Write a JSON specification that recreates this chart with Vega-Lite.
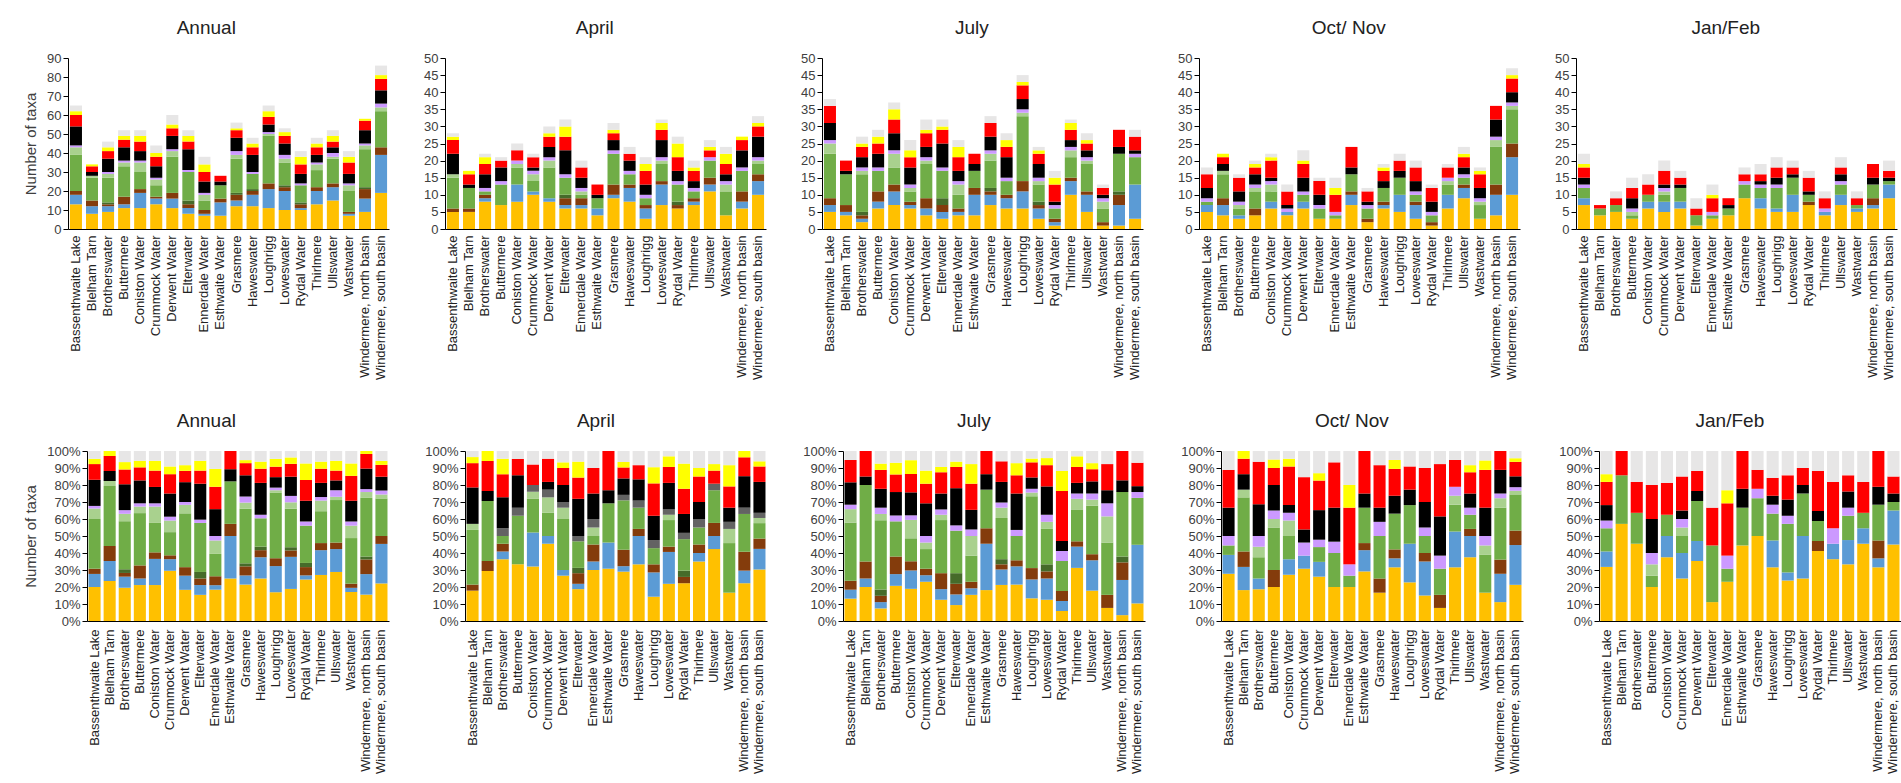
{
"$schema":"https://vega.github.io/schema/vega-lite/v6.json",
"background":"white",
"padding":{"left":22,"top":19,"right":0,"bottom":0},
"config":{
 "view":{"stroke":null},
 "axis":{"labelFont":"Liberation Sans","labelFontSize":13,"labelColor":"#404040","titleFont":"Liberation Sans","titleFontSize":15,"titleFontWeight":"normal","titleColor":"#404040","domainColor":"#000000","tickColor":"#000000","grid":false},
 "title":{"font":"Liberation Sans","fontSize":19,"fontWeight":"normal","color":"#222222","frame":"bounds","offset":14}
},
"data":{"values":[
{"p":"Annual","l":"Bassenthwaite Lake","g01":13,"g02":5,"g03":2,"g04":0,"g05":19,"g06":4,"g07":1,"g08":10,"g09":6,"g10":2,"g11":3},
{"p":"Annual","l":"Blelham Tarn","g01":8,"g02":4,"g03":3,"g04":0,"g05":12,"g06":1,"g07":0,"g08":2,"g09":3,"g10":1,"g11":0},
{"p":"Annual","l":"Brotherswater","g01":9,"g02":3,"g03":1,"g04":1,"g05":13,"g06":2,"g07":1,"g08":7,"g09":4,"g10":2,"g11":3},
{"p":"Annual","l":"Buttermere","g01":11,"g02":2,"g03":4,"g04":0,"g05":16,"g06":2,"g07":1,"g08":7,"g09":4,"g10":2,"g11":3},
{"p":"Annual","l":"Coniston Water","g01":11,"g02":8,"g03":2,"g04":0,"g05":9,"g06":5,"g07":1,"g08":5,"g09":5,"g10":3,"g11":3},
{"p":"Annual","l":"Crummock Water","g01":13,"g02":3,"g03":1,"g04":0,"g05":6,"g06":3,"g07":1,"g08":6,"g09":5,"g10":2,"g11":4},
{"p":"Annual","l":"Derwent Water","g01":11,"g02":5,"g03":3,"g04":0,"g05":19,"g06":3,"g07":1,"g08":7,"g09":4,"g10":2,"g11":5},
{"p":"Annual","l":"Elterwater","g01":8,"g02":3,"g03":2,"g04":2,"g05":15,"g06":0,"g07":1,"g08":11,"g09":4,"g10":3,"g11":3},
{"p":"Annual","l":"Ennerdale Water","g01":7,"g02":1,"g03":2,"g04":0,"g05":5,"g06":3,"g07":1,"g08":6,"g09":5,"g10":4,"g11":4},
{"p":"Annual","l":"Esthwaite Water","g01":7,"g02":7,"g03":2,"g04":0,"g05":7,"g06":0,"g07":0,"g08":2,"g09":3,"g10":0,"g11":0},
{"p":"Annual","l":"Grasmere","g01":12,"g02":3,"g03":3,"g04":1,"g05":18,"g06":2,"g07":2,"g08":7,"g09":4,"g10":1,"g11":3},
{"p":"Annual","l":"Haweswater","g01":12,"g02":6,"g03":2,"g04":1,"g05":8,"g06":0,"g07":1,"g08":9,"g09":4,"g10":2,"g11":3},
{"p":"Annual","l":"Loughrigg","g01":11,"g02":10,"g03":3,"g04":0,"g05":25,"g06":1,"g07":1,"g08":4,"g09":4,"g10":3,"g11":3},
{"p":"Annual","l":"Loweswater","g01":10,"g02":10,"g03":2,"g04":1,"g05":12,"g06":2,"g07":2,"g08":6,"g09":4,"g10":2,"g11":2},
{"p":"Annual","l":"Rydal Water","g01":10,"g02":1,"g03":2,"g04":1,"g05":9,"g06":0,"g07":1,"g08":5,"g09":5,"g10":4,"g11":3},
{"p":"Annual","l":"Thirlmere","g01":13,"g02":7,"g03":2,"g04":0,"g05":9,"g06":3,"g07":1,"g08":4,"g09":4,"g10":2,"g11":3},
{"p":"Annual","l":"Ullswater","g01":15,"g02":7,"g03":2,"g04":0,"g05":13,"g06":1,"g07":2,"g08":3,"g09":3,"g10":3,"g11":3},
{"p":"Annual","l":"Wastwater","g01":7,"g02":1,"g03":1,"g04":0,"g05":11,"g06":3,"g07":1,"g08":5,"g09":6,"g10":3,"g11":3},
{"p":"Annual","l":"Windermere, north basin","g01":9,"g02":7,"g03":5,"g04":1,"g05":20,"g06":2,"g07":1,"g08":7,"g09":5,"g10":1,"g11":0},
{"p":"Annual","l":"Windermere, south basin","g01":19,"g02":20,"g03":4,"g04":0,"g05":19,"g06":2,"g07":2,"g08":7,"g09":6,"g10":2,"g11":5},
{"p":"April","l":"Bassenthwaite Lake","g01":5,"g02":0,"g03":1,"g04":0,"g05":9,"g06":1,"g07":0,"g08":6,"g09":4,"g10":1,"g11":1},
{"p":"April","l":"Blelham Tarn","g01":5,"g02":0,"g03":1,"g04":0,"g05":6,"g06":0,"g07":0,"g08":1,"g09":3,"g10":1,"g11":0},
{"p":"April","l":"Brotherswater","g01":8,"g02":1,"g03":1,"g04":0,"g05":1,"g06":0,"g07":1,"g08":4,"g09":3,"g10":2,"g11":1},
{"p":"April","l":"Buttermere","g01":7,"g02":0,"g03":0,"g04":0,"g05":6,"g06":0,"g07":1,"g08":4,"g09":2,"g10":0,"g11":1},
{"p":"April","l":"Coniston Water","g01":8,"g02":5,"g03":0,"g04":0,"g05":5,"g06":1,"g07":1,"g08":0,"g09":3,"g10":0,"g11":2},
{"p":"April","l":"Crummock Water","g01":10,"g02":1,"g03":0,"g04":0,"g05":3,"g06":2,"g07":1,"g08":1,"g09":3,"g10":0,"g11":1},
{"p":"April","l":"Derwent Water","g01":8,"g02":1,"g03":0,"g04":0,"g05":9,"g06":2,"g07":1,"g08":3,"g09":3,"g10":1,"g11":2},
{"p":"April","l":"Elterwater","g01":6,"g02":1,"g03":2,"g04":1,"g05":5,"g06":0,"g07":1,"g08":7,"g09":4,"g10":3,"g11":2},
{"p":"April","l":"Ennerdale Water","g01":6,"g02":1,"g03":2,"g04":0,"g05":1,"g06":1,"g07":1,"g08":3,"g09":3,"g10":0,"g11":2},
{"p":"April","l":"Esthwaite Water","g01":4,"g02":2,"g03":0,"g04":0,"g05":3,"g06":0,"g07":0,"g08":1,"g09":3,"g10":0,"g11":0},
{"p":"April","l":"Grasmere","g01":9,"g02":1,"g03":3,"g04":0,"g05":9,"g06":0,"g07":1,"g08":3,"g09":2,"g10":1,"g11":2},
{"p":"April","l":"Haweswater","g01":8,"g02":4,"g03":1,"g04":0,"g05":3,"g06":0,"g07":1,"g08":3,"g09":2,"g10":0,"g11":2},
{"p":"April","l":"Loughrigg","g01":3,"g02":3,"g03":1,"g04":0,"g05":2,"g06":0,"g07":1,"g08":3,"g09":4,"g10":2,"g11":2},
{"p":"April","l":"Loweswater","g01":7,"g02":6,"g03":1,"g04":0,"g05":5,"g06":1,"g07":1,"g08":5,"g09":3,"g10":2,"g11":1},
{"p":"April","l":"Rydal Water","g01":6,"g02":0,"g03":1,"g04":1,"g05":5,"g06":0,"g07":1,"g08":3,"g09":4,"g10":4,"g11":2},
{"p":"April","l":"Thirlmere","g01":7,"g02":1,"g03":1,"g04":0,"g05":2,"g06":0,"g07":1,"g08":2,"g09":3,"g10":1,"g11":2},
{"p":"April","l":"Ullswater","g01":11,"g02":2,"g03":2,"g04":0,"g05":5,"g06":0,"g07":1,"g08":0,"g09":2,"g10":1,"g11":2},
{"p":"April","l":"Wastwater","g01":4,"g02":0,"g03":0,"g04":0,"g05":7,"g06":2,"g07":1,"g08":2,"g09":3,"g10":3,"g11":2},
{"p":"April","l":"Windermere, north basin","g01":6,"g02":2,"g03":3,"g04":0,"g05":6,"g06":0,"g07":1,"g08":5,"g09":3,"g10":1,"g11":0},
{"p":"April","l":"Windermere, south basin","g01":10,"g02":4,"g03":2,"g04":0,"g05":3,"g06":1,"g07":1,"g08":6,"g09":3,"g10":1,"g11":2},
{"p":"July","l":"Bassenthwaite Lake","g01":5,"g02":2,"g03":2,"g04":0,"g05":13,"g06":3,"g07":1,"g08":5,"g09":5,"g10":0,"g11":2},
{"p":"July","l":"Blelham Tarn","g01":4,"g02":1,"g03":2,"g04":0,"g05":9,"g06":0,"g07":0,"g08":1,"g09":3,"g10":0,"g11":0},
{"p":"July","l":"Brotherswater","g01":2,"g02":1,"g03":1,"g04":1,"g05":11,"g06":1,"g07":1,"g08":3,"g09":3,"g10":1,"g11":2},
{"p":"July","l":"Buttermere","g01":6,"g02":2,"g03":3,"g04":0,"g05":6,"g06":0,"g07":1,"g08":4,"g09":3,"g10":2,"g11":2},
{"p":"July","l":"Coniston Water","g01":7,"g02":4,"g03":2,"g04":0,"g05":5,"g06":4,"g07":1,"g08":5,"g09":4,"g10":3,"g11":2},
{"p":"July","l":"Crummock Water","g01":6,"g02":1,"g03":1,"g04":0,"g05":3,"g06":1,"g07":1,"g08":5,"g09":3,"g10":2,"g11":3},
{"p":"July","l":"Derwent Water","g01":4,"g02":2,"g03":3,"g04":0,"g05":10,"g06":1,"g07":1,"g08":3,"g09":4,"g10":1,"g11":3},
{"p":"July","l":"Elterwater","g01":3,"g02":2,"g03":2,"g04":2,"g05":8,"g06":0,"g07":1,"g08":7,"g09":4,"g10":1,"g11":2},
{"p":"July","l":"Ennerdale Water","g01":4,"g02":1,"g03":1,"g04":0,"g05":4,"g06":3,"g07":1,"g08":3,"g09":4,"g10":3,"g11":2},
{"p":"July","l":"Esthwaite Water","g01":4,"g02":6,"g03":2,"g04":0,"g05":5,"g06":0,"g07":0,"g08":2,"g09":3,"g10":0,"g11":0},
{"p":"July","l":"Grasmere","g01":7,"g02":3,"g03":1,"g04":1,"g05":8,"g06":2,"g07":1,"g08":4,"g09":4,"g10":0,"g11":2},
{"p":"July","l":"Haweswater","g01":6,"g02":3,"g03":1,"g04":0,"g05":4,"g06":0,"g07":1,"g08":6,"g09":3,"g10":2,"g11":2},
{"p":"July","l":"Loughrigg","g01":6,"g02":5,"g03":3,"g04":0,"g05":19,"g06":1,"g07":1,"g08":3,"g09":4,"g10":1,"g11":2},
{"p":"July","l":"Loweswater","g01":3,"g02":3,"g03":1,"g04":1,"g05":5,"g06":1,"g07":1,"g08":4,"g09":3,"g10":1,"g11":1},
{"p":"July","l":"Rydal Water","g01":1,"g02":1,"g03":1,"g04":0,"g05":3,"g06":0,"g07":1,"g08":1,"g09":5,"g10":2,"g11":2},
{"p":"July","l":"Thirlmere","g01":10,"g02":4,"g03":1,"g04":0,"g05":6,"g06":2,"g07":1,"g08":2,"g09":3,"g10":2,"g11":1},
{"p":"July","l":"Ullswater","g01":5,"g02":5,"g03":1,"g04":0,"g05":8,"g06":1,"g07":1,"g08":2,"g09":2,"g10":1,"g11":2},
{"p":"July","l":"Wastwater","g01":1,"g02":0,"g03":1,"g04":0,"g05":4,"g06":2,"g07":1,"g08":1,"g09":2,"g10":0,"g11":1},
{"p":"July","l":"Windermere, north basin","g01":1,"g02":6,"g03":3,"g04":1,"g05":11,"g06":0,"g07":0,"g08":2,"g09":5,"g10":0,"g11":0},
{"p":"July","l":"Windermere, south basin","g01":3,"g02":10,"g03":0,"g04":0,"g05":8,"g06":0,"g07":1,"g08":1,"g09":4,"g10":0,"g11":2},
{"p":"Oct/ Nov","l":"Bassenthwaite Lake","g01":5,"g02":2,"g03":0,"g04":0,"g05":1,"g06":0,"g07":1,"g08":3,"g09":4,"g10":0,"g11":2},
{"p":"Oct/ Nov","l":"Blelham Tarn","g01":4,"g02":3,"g03":2,"g04":0,"g05":7,"g06":1,"g07":0,"g08":2,"g09":2,"g10":1,"g11":0},
{"p":"Oct/ Nov","l":"Brotherswater","g01":3,"g02":1,"g03":0,"g04":0,"g05":2,"g06":1,"g07":1,"g08":3,"g09":4,"g10":0,"g11":1},
{"p":"Oct/ Nov","l":"Buttermere","g01":4,"g02":0,"g03":2,"g04":0,"g05":5,"g06":1,"g07":1,"g08":3,"g09":2,"g10":1,"g11":1},
{"p":"Oct/ Nov","l":"Coniston Water","g01":6,"g02":2,"g03":0,"g04":0,"g05":3,"g06":2,"g07":1,"g08":1,"g09":5,"g10":1,"g11":1},
{"p":"Oct/ Nov","l":"Crummock Water","g01":4,"g02":1,"g03":0,"g04":0,"g05":0,"g06":0,"g07":1,"g08":1,"g09":4,"g10":0,"g11":2},
{"p":"Oct/ Nov","l":"Derwent Water","g01":6,"g02":2,"g03":0,"g04":0,"g05":2,"g06":0,"g07":1,"g08":4,"g09":4,"g10":1,"g11":3},
{"p":"Oct/ Nov","l":"Elterwater","g01":3,"g02":0,"g03":0,"g04":0,"g05":3,"g06":0,"g07":1,"g08":3,"g09":4,"g10":0,"g11":1},
{"p":"Oct/ Nov","l":"Ennerdale Water","g01":3,"g02":0,"g03":0,"g04":0,"g05":1,"g06":0,"g07":1,"g08":0,"g09":5,"g10":2,"g11":3},
{"p":"Oct/ Nov","l":"Esthwaite Water","g01":7,"g02":3,"g03":1,"g04":0,"g05":5,"g06":0,"g07":0,"g08":2,"g09":6,"g10":0,"g11":0},
{"p":"Oct/ Nov","l":"Grasmere","g01":2,"g02":0,"g03":1,"g04":0,"g05":3,"g06":0,"g07":1,"g08":1,"g09":3,"g10":0,"g11":1},
{"p":"Oct/ Nov","l":"Haweswater","g01":6,"g02":1,"g03":1,"g04":0,"g05":4,"g06":0,"g07":0,"g08":2,"g09":3,"g10":1,"g11":1},
{"p":"Oct/ Nov","l":"Loughrigg","g01":5,"g02":5,"g03":0,"g04":0,"g05":5,"g06":0,"g07":0,"g08":2,"g09":3,"g10":0,"g11":2},
{"p":"Oct/ Nov","l":"Loweswater","g01":3,"g02":4,"g03":1,"g04":0,"g05":2,"g06":0,"g07":1,"g08":3,"g09":4,"g10":0,"g11":2},
{"p":"Oct/ Nov","l":"Rydal Water","g01":1,"g02":0,"g03":1,"g04":0,"g05":2,"g06":0,"g07":1,"g08":3,"g09":4,"g10":0,"g11":1},
{"p":"Oct/ Nov","l":"Thirlmere","g01":6,"g02":4,"g03":0,"g04":0,"g05":3,"g06":1,"g07":1,"g08":0,"g09":3,"g10":0,"g11":1},
{"p":"Oct/ Nov","l":"Ullswater","g01":9,"g02":3,"g03":1,"g04":0,"g05":2,"g06":0,"g07":1,"g08":2,"g09":3,"g10":1,"g11":2},
{"p":"Oct/ Nov","l":"Wastwater","g01":3,"g02":0,"g03":0,"g04":0,"g05":4,"g06":1,"g07":1,"g08":3,"g09":4,"g10":1,"g11":1},
{"p":"Oct/ Nov","l":"Windermere, north basin","g01":4,"g02":6,"g03":3,"g04":0,"g05":11,"g06":2,"g07":1,"g08":5,"g09":4,"g10":0,"g11":0},
{"p":"Oct/ Nov","l":"Windermere, south basin","g01":10,"g02":11,"g03":4,"g04":0,"g05":10,"g06":1,"g07":1,"g08":3,"g09":4,"g10":1,"g11":2},
{"p":"Jan/Feb","l":"Bassenthwaite Lake","g01":7,"g02":2,"g03":0,"g04":0,"g05":3,"g06":0,"g07":1,"g08":2,"g09":3,"g10":1,"g11":3},
{"p":"Jan/Feb","l":"Blelham Tarn","g01":4,"g02":0,"g03":0,"g04":0,"g05":2,"g06":0,"g07":0,"g08":0,"g09":1,"g10":0,"g11":0},
{"p":"Jan/Feb","l":"Brotherswater","g01":5,"g02":0,"g03":0,"g04":0,"g05":2,"g06":0,"g07":0,"g08":0,"g09":2,"g10":0,"g11":2},
{"p":"Jan/Feb","l":"Buttermere","g01":3,"g02":0,"g03":0,"g04":0,"g05":1,"g06":1,"g07":1,"g08":3,"g09":3,"g10":0,"g11":3},
{"p":"Jan/Feb","l":"Coniston Water","g01":6,"g02":2,"g03":0,"g04":0,"g05":2,"g06":0,"g07":0,"g08":0,"g09":3,"g10":0,"g11":3},
{"p":"Jan/Feb","l":"Crummock Water","g01":5,"g02":3,"g03":0,"g04":0,"g05":2,"g06":1,"g07":1,"g08":1,"g09":4,"g10":0,"g11":3},
{"p":"Jan/Feb","l":"Derwent Water","g01":6,"g02":2,"g03":0,"g04":0,"g05":4,"g06":0,"g07":0,"g08":1,"g09":2,"g10":0,"g11":2},
{"p":"Jan/Feb","l":"Elterwater","g01":1,"g02":0,"g03":0,"g04":0,"g05":3,"g06":0,"g07":0,"g08":0,"g09":2,"g10":0,"g11":3},
{"p":"Jan/Feb","l":"Ennerdale Water","g01":3,"g02":0,"g03":0,"g04":0,"g05":1,"g06":0,"g07":1,"g08":0,"g09":4,"g10":1,"g11":3},
{"p":"Jan/Feb","l":"Esthwaite Water","g01":4,"g02":0,"g03":0,"g04":0,"g05":2,"g06":0,"g07":0,"g08":1,"g09":2,"g10":0,"g11":0},
{"p":"Jan/Feb","l":"Grasmere","g01":9,"g02":0,"g03":0,"g04":0,"g05":4,"g06":0,"g07":1,"g08":0,"g09":2,"g10":0,"g11":2},
{"p":"Jan/Feb","l":"Haweswater","g01":6,"g02":3,"g03":0,"g04":0,"g05":3,"g06":0,"g07":1,"g08":1,"g09":2,"g10":0,"g11":3},
{"p":"Jan/Feb","l":"Loughrigg","g01":5,"g02":1,"g03":0,"g04":0,"g05":6,"g06":0,"g07":1,"g08":2,"g09":3,"g10":0,"g11":3},
{"p":"Jan/Feb","l":"Loweswater","g01":5,"g02":5,"g03":0,"g04":0,"g05":5,"g06":0,"g07":0,"g08":1,"g09":2,"g10":0,"g11":2},
{"p":"Jan/Feb","l":"Rydal Water","g01":7,"g02":0,"g03":1,"g04":0,"g05":2,"g06":0,"g07":0,"g08":1,"g09":4,"g10":0,"g11":2},
{"p":"Jan/Feb","l":"Thirlmere","g01":4,"g02":1,"g03":0,"g04":0,"g05":0,"g06":0,"g07":1,"g08":0,"g09":3,"g10":0,"g11":2},
{"p":"Jan/Feb","l":"Ullswater","g01":7,"g02":3,"g03":0,"g04":0,"g05":3,"g06":0,"g07":1,"g08":2,"g09":2,"g10":0,"g11":3},
{"p":"Jan/Feb","l":"Wastwater","g01":5,"g02":1,"g03":0,"g04":0,"g05":1,"g06":0,"g07":0,"g08":0,"g09":2,"g10":0,"g11":2},
{"p":"Jan/Feb","l":"Windermere, north basin","g01":6,"g02":1,"g03":2,"g04":0,"g05":4,"g06":0,"g07":0,"g08":2,"g09":4,"g10":0,"g11":0},
{"p":"Jan/Feb","l":"Windermere, south basin","g01":9,"g02":4,"g03":0,"g04":0,"g05":1,"g06":0,"g07":0,"g08":1,"g09":2,"g10":0,"g11":3}
]},
"columns":1,
"align":"none",
"spacing":32,
"resolve":{"scale":{"color":"independent"}},
"concat":[
{"spacing":0,"resolve":{"scale":{"color":"independent"}},"hconcat":[
 {"data":{"values":[]},"width":1,"height":1,"mark":{"type":"point","opacity":0},"encoding":{}},
 {"spacing":34,"resolve":{"scale":{"color":"independent"}},"hconcat":[
 {"title":"Annual","width":321,"height":171,
  "transform":[{"filter":{"field":"p","equal":"Annual"}},{"fold":["g01","g02","g03","g04","g05","g06","g07","g08","g09","g10","g11"],"as":["g","n"]}],
  "mark":{"type":"bar"},
  "encoding":{
   "x":{"field":"l","type":"nominal","sort":null,"scale":{"paddingInner":0.25,"paddingOuter":0.12},"axis":{"title":null,"labelAngle":-90,"ticks":false,"labelPadding":6,"labelOverlap":false,"labelColor":"#222222"}},
   "y":{"field":"n","type":"quantitative","stack":"zero","scale":{"domain":[0,90],"nice":false},"axis":{"title":"Number of taxa","values":[0,10,20,30,40,50,60,70,80,90],"tickSize":5,"labelPadding":2,"titlePadding":8}},
   "color":{"field":"g","type":"nominal","legend":null,"scale":{"domain":["g01","g02","g03","g04","g05","g06","g07","g08","g09","g10","g11"],"range":["#FFC000","#5B9BD5","#843C0C","#466B2A","#70AD47","#A9D18E","#CC99FF","#000000","#FF0000","#FFFF00","#E7E6E6"]}},
   "order":{"field":"g","sort":"ascending"}}},
 {"title":"April","width":321,"height":171,
  "transform":[{"filter":{"field":"p","equal":"April"}},{"fold":["g01","g02","g03","g04","g05","g06","g07","g08","g09","g10","g11"],"as":["g","n"]}],
  "mark":{"type":"bar"},
  "encoding":{
   "x":{"field":"l","type":"nominal","sort":null,"scale":{"paddingInner":0.25,"paddingOuter":0.12},"axis":{"title":null,"labelAngle":-90,"ticks":false,"labelPadding":6,"labelOverlap":false,"labelColor":"#222222"}},
   "y":{"field":"n","type":"quantitative","stack":"zero","scale":{"domain":[0,50],"nice":false},"axis":{"title":null,"values":[0,5,10,15,20,25,30,35,40,45,50],"tickSize":5,"labelPadding":2}},
   "color":{"field":"g","type":"nominal","legend":null,"scale":{"domain":["g01","g02","g03","g04","g05","g06","g07","g08","g09","g10","g11"],"range":["#FFC000","#5B9BD5","#843C0C","#466B2A","#70AD47","#A9D18E","#CC99FF","#000000","#FF0000","#FFFF00","#E7E6E6"]}},
   "order":{"field":"g","sort":"ascending"}}},
 {"title":"July","width":321,"height":171,
  "transform":[{"filter":{"field":"p","equal":"July"}},{"fold":["g01","g02","g03","g04","g05","g06","g07","g08","g09","g10","g11"],"as":["g","n"]}],
  "mark":{"type":"bar"},
  "encoding":{
   "x":{"field":"l","type":"nominal","sort":null,"scale":{"paddingInner":0.25,"paddingOuter":0.12},"axis":{"title":null,"labelAngle":-90,"ticks":false,"labelPadding":6,"labelOverlap":false,"labelColor":"#222222"}},
   "y":{"field":"n","type":"quantitative","stack":"zero","scale":{"domain":[0,50],"nice":false},"axis":{"title":null,"values":[0,5,10,15,20,25,30,35,40,45,50],"tickSize":5,"labelPadding":2}},
   "color":{"field":"g","type":"nominal","legend":null,"scale":{"domain":["g01","g02","g03","g04","g05","g06","g07","g08","g09","g10","g11"],"range":["#FFC000","#5B9BD5","#843C0C","#466B2A","#70AD47","#A9D18E","#CC99FF","#000000","#FF0000","#FFFF00","#E7E6E6"]}},
   "order":{"field":"g","sort":"ascending"}}},
 {"title":"Oct/ Nov","width":321,"height":171,
  "transform":[{"filter":{"field":"p","equal":"Oct/ Nov"}},{"fold":["g01","g02","g03","g04","g05","g06","g07","g08","g09","g10","g11"],"as":["g","n"]}],
  "mark":{"type":"bar"},
  "encoding":{
   "x":{"field":"l","type":"nominal","sort":null,"scale":{"paddingInner":0.25,"paddingOuter":0.12},"axis":{"title":null,"labelAngle":-90,"ticks":false,"labelPadding":6,"labelOverlap":false,"labelColor":"#222222"}},
   "y":{"field":"n","type":"quantitative","stack":"zero","scale":{"domain":[0,50],"nice":false},"axis":{"title":null,"values":[0,5,10,15,20,25,30,35,40,45,50],"tickSize":5,"labelPadding":2}},
   "color":{"field":"g","type":"nominal","legend":null,"scale":{"domain":["g01","g02","g03","g04","g05","g06","g07","g08","g09","g10","g11"],"range":["#FFC000","#5B9BD5","#843C0C","#466B2A","#70AD47","#A9D18E","#CC99FF","#000000","#FF0000","#FFFF00","#E7E6E6"]}},
   "order":{"field":"g","sort":"ascending"}}},
 {"title":"Jan/Feb","width":321,"height":171,
  "transform":[{"filter":{"field":"p","equal":"Jan/Feb"}},{"fold":["g01","g02","g03","g04","g05","g06","g07","g08","g09","g10","g11"],"as":["g","n"]}],
  "mark":{"type":"bar"},
  "encoding":{
   "x":{"field":"l","type":"nominal","sort":null,"scale":{"paddingInner":0.25,"paddingOuter":0.12},"axis":{"title":null,"labelAngle":-90,"ticks":false,"labelPadding":6,"labelOverlap":false,"labelColor":"#222222"}},
   "y":{"field":"n","type":"quantitative","stack":"zero","scale":{"domain":[0,50],"nice":false},"axis":{"title":null,"values":[0,5,10,15,20,25,30,35,40,45,50],"tickSize":5,"labelPadding":2}},
   "color":{"field":"g","type":"nominal","legend":null,"scale":{"domain":["g01","g02","g03","g04","g05","g06","g07","g08","g09","g10","g11"],"range":["#FFC000","#5B9BD5","#843C0C","#466B2A","#70AD47","#A9D18E","#CC99FF","#000000","#FF0000","#FFFF00","#E7E6E6"]}},
   "order":{"field":"g","sort":"ascending"}}}
 ]}
]},
{"spacing":0,"resolve":{"scale":{"color":"independent"}},"hconcat":[
 {"data":{"values":[]},"width":1,"height":1,"mark":{"type":"point","opacity":0},"encoding":{}},
 {"spacing":35,"resolve":{"scale":{"color":"independent"}},"hconcat":[
 {"title":"Annual","width":302,"height":170,
  "transform":[{"filter":{"field":"p","equal":"Annual"}},{"fold":["g01","g02","g03","g04","g05","g06","g07","g08","g09","g10","g11"],"as":["g","n"]}],
  "mark":{"type":"bar"},
  "encoding":{
   "x":{"field":"l","type":"nominal","sort":null,"scale":{"paddingInner":0.2,"paddingOuter":0.1},"axis":{"title":null,"labelAngle":-90,"ticks":false,"labelPadding":8,"labelOverlap":false,"labelColor":"#222222"}},
   "y":{"field":"n","type":"quantitative","stack":"normalize","scale":{"domain":[0,1],"nice":false},"axis":{"title":"Number of taxa","format":".0%","values":[0,0.1,0.2,0.3,0.4,0.5,0.6,0.7,0.8,0.9,1],"tickSize":5,"labelPadding":2,"titlePadding":8}},
   "color":{"field":"g","type":"nominal","legend":null,"scale":{"domain":["g01","g02","g03","g04","g05","g06","g07","g08","g09","g10","g11"],"range":["#FFC000","#5B9BD5","#843C0C","#466B2A","#70AD47","#A9D18E","#CC99FF","#000000","#FF0000","#FFFF00","#E7E6E6"]}},
   "order":{"field":"g","sort":"ascending"}}},
 {"title":"April","width":302,"height":170,
  "transform":[{"filter":{"field":"p","equal":"April"}},{"fold":["g01","g02","g03","g04","g05","g06","g07","g08","g09","g10","g11"],"as":["g","n"]}],
  "mark":{"type":"bar"},
  "encoding":{
   "x":{"field":"l","type":"nominal","sort":null,"scale":{"paddingInner":0.2,"paddingOuter":0.1},"axis":{"title":null,"labelAngle":-90,"ticks":false,"labelPadding":8,"labelOverlap":false,"labelColor":"#222222"}},
   "y":{"field":"n","type":"quantitative","stack":"normalize","scale":{"domain":[0,1],"nice":false},"axis":{"title":null,"format":".0%","values":[0,0.1,0.2,0.3,0.4,0.5,0.6,0.7,0.8,0.9,1],"tickSize":5,"labelPadding":2}},
   "color":{"field":"g","type":"nominal","legend":null,"scale":{"domain":["g01","g02","g03","g04","g05","g06","g07","g08","g09","g10","g11"],"range":["#FFC000","#5B9BD5","#843C0C","#466B2A","#70AD47","#A9D18E","#636363","#000000","#FF0000","#FFFF00","#E7E6E6"]}},
   "order":{"field":"g","sort":"ascending"}}},
 {"title":"July","width":302,"height":170,
  "transform":[{"filter":{"field":"p","equal":"July"}},{"fold":["g01","g02","g03","g04","g05","g06","g07","g08","g09","g10","g11"],"as":["g","n"]}],
  "mark":{"type":"bar"},
  "encoding":{
   "x":{"field":"l","type":"nominal","sort":null,"scale":{"paddingInner":0.2,"paddingOuter":0.1},"axis":{"title":null,"labelAngle":-90,"ticks":false,"labelPadding":8,"labelOverlap":false,"labelColor":"#222222"}},
   "y":{"field":"n","type":"quantitative","stack":"normalize","scale":{"domain":[0,1],"nice":false},"axis":{"title":null,"format":".0%","values":[0,0.1,0.2,0.3,0.4,0.5,0.6,0.7,0.8,0.9,1],"tickSize":5,"labelPadding":2}},
   "color":{"field":"g","type":"nominal","legend":null,"scale":{"domain":["g01","g02","g03","g04","g05","g06","g07","g08","g09","g10","g11"],"range":["#FFC000","#5B9BD5","#843C0C","#466B2A","#70AD47","#A9D18E","#CC99FF","#000000","#FF0000","#FFFF00","#E7E6E6"]}},
   "order":{"field":"g","sort":"ascending"}}},
 {"title":"Oct/ Nov","width":302,"height":170,
  "transform":[{"filter":{"field":"p","equal":"Oct/ Nov"}},{"fold":["g01","g02","g03","g04","g05","g06","g07","g08","g09","g10","g11"],"as":["g","n"]}],
  "mark":{"type":"bar"},
  "encoding":{
   "x":{"field":"l","type":"nominal","sort":null,"scale":{"paddingInner":0.2,"paddingOuter":0.1},"axis":{"title":null,"labelAngle":-90,"ticks":false,"labelPadding":8,"labelOverlap":false,"labelColor":"#222222"}},
   "y":{"field":"n","type":"quantitative","stack":"normalize","scale":{"domain":[0,1],"nice":false},"axis":{"title":null,"format":".0%","values":[0,0.1,0.2,0.3,0.4,0.5,0.6,0.7,0.8,0.9,1],"tickSize":5,"labelPadding":2}},
   "color":{"field":"g","type":"nominal","legend":null,"scale":{"domain":["g01","g02","g03","g04","g05","g06","g07","g08","g09","g10","g11"],"range":["#FFC000","#5B9BD5","#843C0C","#466B2A","#70AD47","#A9D18E","#CC99FF","#000000","#FF0000","#FFFF00","#E7E6E6"]}},
   "order":{"field":"g","sort":"ascending"}}},
 {"title":"Jan/Feb","width":302,"height":170,
  "transform":[{"filter":{"field":"p","equal":"Jan/Feb"}},{"fold":["g01","g02","g03","g04","g05","g06","g07","g08","g09","g10","g11"],"as":["g","n"]}],
  "mark":{"type":"bar"},
  "encoding":{
   "x":{"field":"l","type":"nominal","sort":null,"scale":{"paddingInner":0.2,"paddingOuter":0.1},"axis":{"title":null,"labelAngle":-90,"ticks":false,"labelPadding":8,"labelOverlap":false,"labelColor":"#222222"}},
   "y":{"field":"n","type":"quantitative","stack":"normalize","scale":{"domain":[0,1],"nice":false},"axis":{"title":null,"format":".0%","values":[0,0.1,0.2,0.3,0.4,0.5,0.6,0.7,0.8,0.9,1],"tickSize":5,"labelPadding":2}},
   "color":{"field":"g","type":"nominal","legend":null,"scale":{"domain":["g01","g02","g03","g04","g05","g06","g07","g08","g09","g10","g11"],"range":["#FFC000","#5B9BD5","#843C0C","#466B2A","#70AD47","#A9D18E","#CC99FF","#000000","#FF0000","#FFFF00","#E7E6E6"]}},
   "order":{"field":"g","sort":"ascending"}}}
 ]}
]}
]
}
